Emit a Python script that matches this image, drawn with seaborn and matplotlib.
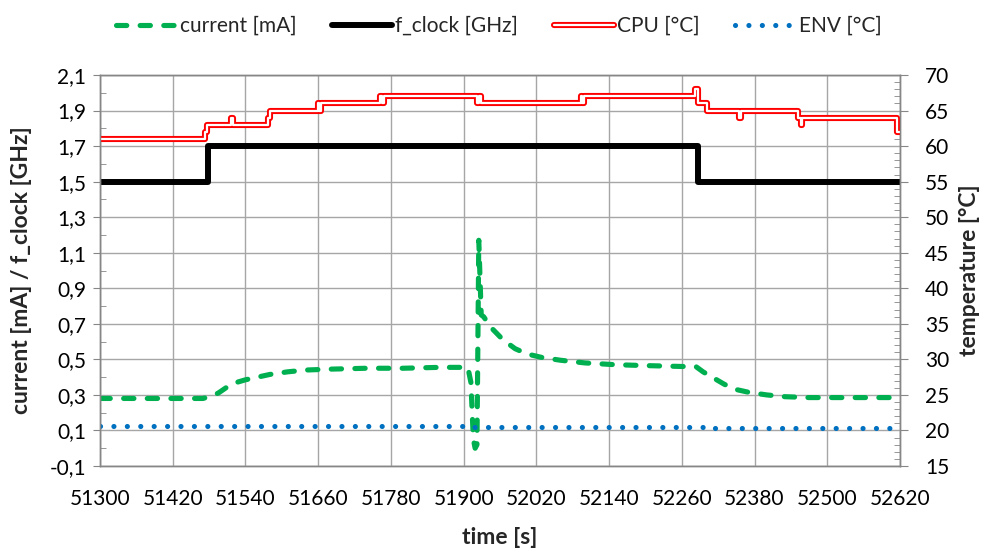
import numpy as np
import matplotlib
matplotlib.use("Agg")
import matplotlib.pyplot as plt
import matplotlib.patheffects as pe
from matplotlib.ticker import FixedLocator, MultipleLocator, FuncFormatter
import seaborn as sns

# ---- measured series -------------------------------------------------------
current_t = [51300, 51470, 51480, 51495, 51510, 51525, 51540, 51560, 51580,
             51610, 51640, 51680, 51740, 51800, 51860, 51907, 51912, 51916,
             51919, 51922, 51925, 51929, 51933, 51945, 51965, 51985, 52005,
             52030, 52060, 52100, 52150, 52200, 52260, 52283, 52295, 52310,
             52330, 52350, 52370, 52400, 52430, 52470, 52620]
current_mA = [0.28, 0.28, 0.29, 0.31, 0.345, 0.37, 0.385, 0.40, 0.415,
              0.43, 0.44, 0.445, 0.45, 0.45, 0.455, 0.455, 0.37, 0.05,
              0.00, 0.02, 1.17, 0.75, 0.74, 0.68, 0.61, 0.56, 0.53,
              0.51, 0.495, 0.48, 0.47, 0.465, 0.46, 0.46, 0.43, 0.40,
              0.36, 0.33, 0.315, 0.30, 0.29, 0.285, 0.285]

fclock_t = [51300, 51478, 52287, 52620]
fclock_GHz = [1.5, 1.7, 1.5, 1.5]

cpu_t = [51300, 51474, 51477, 51516, 51519, 51578, 51581, 51660, 51662,
         51665, 51762, 51765, 51768, 51922, 51925, 51928, 52093, 52096,
         52099, 52103, 52282, 52286, 52302, 52354, 52358, 52452, 52456,
         52459, 52615, 52620]
cpu_C = [61, 62, 63, 64, 63, 64, 65, 66, 65, 66, 67, 66, 67, 66, 67, 66,
         67, 66, 67, 67, 68, 66, 65, 64, 65, 64, 63, 64, 62, 62]

env_t = [51300, 51900, 52300, 52620]
env_C = [20.6, 20.5, 20.4, 20.4]

xticks = list(range(51300, 52621, 120))
left_ticks = [-0.1, 0.1, 0.3, 0.5, 0.7, 0.9, 1.1, 1.3, 1.5, 1.7, 1.9, 2.1]
right_ticks = list(range(15, 71, 5))

# ---- style -----------------------------------------------------------------
sns.set_style("white")
plt.rcParams["font.family"] = ["Lato", "DejaVu Sans"]
plt.rcParams["font.size"] = 15

GRID = "#a6a6a6"
SPINE = "#868686"
GREEN = "#00B050"
BLUE = "#0070C0"
RED = "#FF0000"
TICK_FS = 15
LABEL_FS = 16.5

fig = plt.figure(figsize=(9.82, 5.56), dpi=100)
ax = fig.add_axes([100 / 982, 1 - 466 / 556, 800 / 982, 391 / 556])
ax2 = ax.twinx()

# primary axis: current and clock
sns.lineplot(x=current_t, y=current_mA, ax=ax, color=GREEN, lw=3.7,
             linestyle=(0, (2.0, 2.6)), dash_capstyle="round",
             estimator=None, sort=False, legend=False, label="current [mA]")
sns.lineplot(x=fclock_t, y=fclock_GHz, ax=ax, color="black", lw=4.3,
             drawstyle="steps-post", solid_joinstyle="round",
             estimator=None, legend=False, label="f_clock [GHz]")

# secondary axis: temperatures
sns.lineplot(x=cpu_t, y=cpu_C, ax=ax2, color="white", lw=1.6,
             drawstyle="steps-post", estimator=None, legend=False,
             label="CPU [°C]",
             path_effects=[pe.Stroke(linewidth=4.4, foreground=RED), pe.Normal()])
sns.lineplot(x=env_t, y=env_C, ax=ax2, color=BLUE, lw=3.7,
             drawstyle="steps-post", linestyle=(0, (0.01, 2.6)),
             dash_capstyle="round", estimator=None, legend=False,
             label="ENV [°C]")

ax.set_xlim(51300, 52620)
ax.set_ylim(-0.1, 2.1)
ax2.set_ylim(15, 70)

ax.xaxis.set_major_locator(FixedLocator(xticks))
ax.xaxis.set_minor_locator(MultipleLocator(30))
ax.yaxis.set_major_locator(FixedLocator(left_ticks))
ax.yaxis.set_minor_locator(FixedLocator(np.round(np.arange(-0.1, 2.101, 0.1), 2)))
ax.yaxis.set_major_formatter(FuncFormatter(lambda v, _: f"{v:.1f}".replace(".", ",")))
ax2.yaxis.set_major_locator(FixedLocator(right_ticks))
ax2.yaxis.set_minor_locator(MultipleLocator(1))

ax.grid(True, which="major", color=GRID, lw=1.0)
ax.set_axisbelow(True)
ax2.grid(False)

for a in (ax, ax2):
    for s in a.spines.values():
        s.set_color(SPINE)
        s.set_linewidth(1.0)
    a.tick_params(which="both", colors=SPINE, labelcolor="black", labelsize=TICK_FS)

ax.tick_params(axis="x", which="major", direction="inout", length=9, pad=12)
ax.tick_params(axis="x", which="minor", direction="in", length=4)
ax.tick_params(axis="y", which="major", direction="out", length=5, pad=5)
ax.tick_params(axis="y", which="minor", direction="in", length=4)
ax2.tick_params(axis="y", which="major", direction="out", length=6, pad=12)
ax2.tick_params(axis="y", which="minor", direction="in", length=4)

ax.set_xlabel("time [s]", fontsize=LABEL_FS, fontweight="bold")
ax.set_ylabel("current [mA] / f_clock [GHz]", fontsize=LABEL_FS, fontweight="bold")
ax2.set_ylabel("temperature [°C]", fontsize=LABEL_FS, fontweight="bold", rotation=90)
ax.xaxis.set_label_coords(0.5, -0.182)
ax.yaxis.set_label_coords(-0.0975, 0.5)
ax2.yaxis.set_label_coords(1.0875, 0.5)
ax.yaxis.label.set_verticalalignment("center")
ax2.yaxis.label.set_verticalalignment("center")
ax.xaxis.label.set_verticalalignment("center")

h1, l1 = ax.get_legend_handles_labels()
h2, l2 = ax2.get_legend_handles_labels()
fig.legend(h1 + h2, l1 + l2, loc="center", bbox_to_anchor=(499 / 982, 1 - 26 / 556),
           ncol=4, frameon=False, handlelength=2.9, handletextpad=0.15,
           columnspacing=1.7, fontsize=15)

fig.savefig("out.png", dpi=100)
